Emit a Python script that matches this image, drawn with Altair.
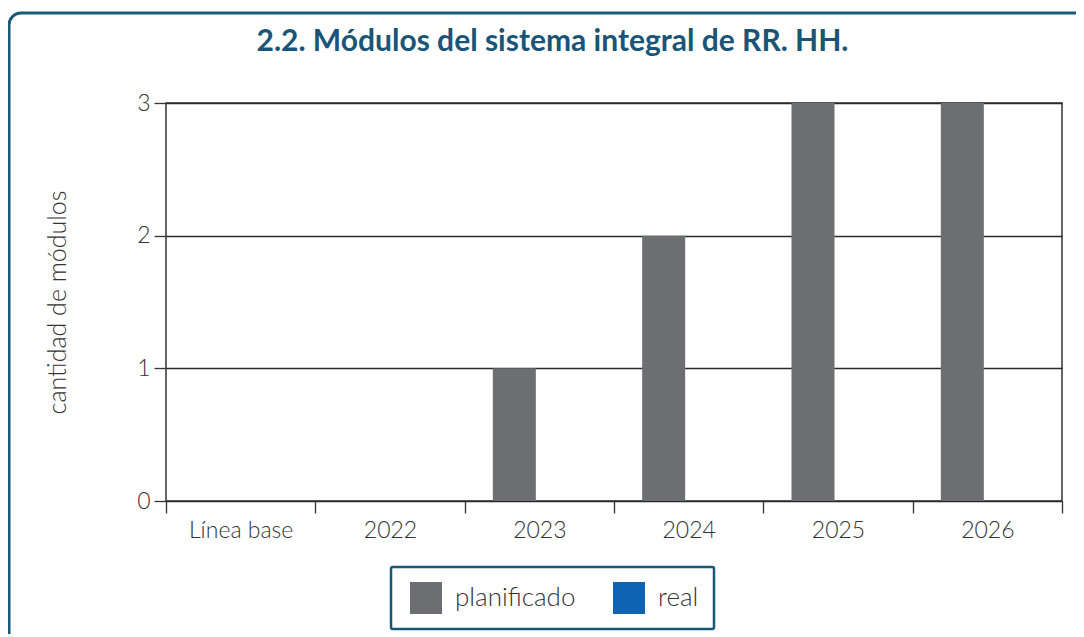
import altair as alt
import pandas as pd

categories = ["Línea base", "2022", "2023", "2024", "2025", "2026"]
planificado = [0, 0, 1, 2, 3, 3]
real = [None, None, None, None, None, None]
series = ["planificado", "real"]
colors = ["#6d6e71", "#1062b2"]
y_ticks = [0, 1, 2, 3]
title_text = "2.2. Módulos del sistema integral de RR. HH."

rows = []
for c, p, r in zip(categories, planificado, real):
    rows.append({"periodo": c, "serie": "planificado", "valor": p})
    rows.append({"periodo": c, "serie": "real", "valor": r})
df = pd.DataFrame(rows)

FONT = "Lato"
TEAL = "#1b5878"

frame = alt.Chart(alt.Data(values=[{"a": 1}])).mark_rect(
    fill="white", fillOpacity=0, stroke=TEAL, strokeWidth=3, cornerRadius=12, clip=False
).encode(
    x=alt.value(-157), x2=alt.value(1200),
    y=alt.value(-90), y2=alt.value(900),
)

title = alt.Chart(alt.Data(values=[{"t": title_text}])).mark_text(
    font=FONT, fontSize=30, fontWeight="bold", color="#1a5577",
    align="center", baseline="alphabetic", clip=False
).encode(
    x=alt.value(386.5), y=alt.value(-52), text="t:N"
)

bars = alt.Chart(df).mark_bar().encode(
    x=alt.X("periodo:N", sort=categories,
            scale=alt.Scale(domain=categories, paddingInner=0, paddingOuter=0),
            axis=alt.Axis(title=None, labelAngle=0, tickBand="extent", tickSize=12,
                          tickColor="#333", tickWidth=1.3, domain=False, grid=False,
                          labelFont=FONT, labelFontWeight=300, labelFontSize=23,
                          labelColor="#333", labelPadding=6)),
    xOffset=alt.XOffset("serie:N", scale=alt.Scale(domain=series, paddingInner=0.14, paddingOuter=0.5633)),
    y=alt.Y("valor:Q", scale=alt.Scale(domain=[0, 3], nice=False),
            axis=alt.Axis(title="cantidad de módulos", values=y_ticks, format="d",
                          tickSize=12, tickColor="#333", tickWidth=1.3, domain=False,
                          grid=True, gridColor="#2a2a2a", gridWidth=1.3,
                          labelFont=FONT, labelFontWeight=300, labelFontSize=23,
                          labelColor="#333", labelPadding=4,
                          titleFont=FONT, titleFontWeight=300, titleFontSize=25,
                          titleColor="#333", titleX=-101, titleBaseline="alphabetic")),
    color=alt.Color("serie:N", scale=alt.Scale(domain=series, range=colors),
                    legend=alt.Legend(title=None, orient="none", legendX=225, legendY=464,
                                      direction="horizontal", symbolType="square",
                                      symbolSize=1024, symbolStrokeWidth=0,
                                      symbolOffset=4,
                                      labelFont=FONT, labelFontWeight=300, labelFontSize=26,
                                      labelColor="#333", labelOffset=13, columnPadding=33,
                                      padding=15, strokeColor=TEAL, cornerRadius=2,
                                      fillColor="white")),
)

chart = alt.layer(frame, title, bars).properties(
    width=896, height=398,
    autosize="none",
    padding={"left": 158, "top": 95, "right": 14, "bottom": 133},
).configure_view(
    stroke="#333", strokeWidth=1.5
).configure_legend(
    strokeWidth=2.5
)

chart.save("out.html", embed_options={"renderer": "svg", "actions": False})
